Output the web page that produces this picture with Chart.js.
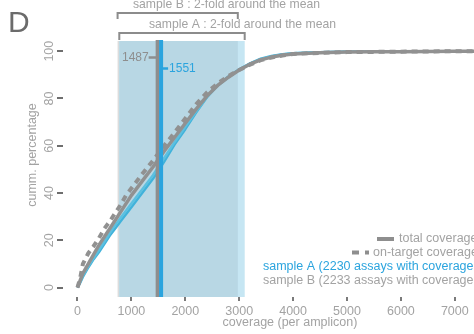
<!DOCTYPE html>
<html>
<head>
<meta charset="utf-8">
<script src="https://cdn.jsdelivr.net/npm/chart.js@4"></script>
<style>
  html, body { margin: 0; padding: 0; background: #fff; overflow: hidden; }
  #wrap { position: relative; width: 474px; height: 334px; }
</style>
</head>
<body>
<div id="wrap"><canvas id="c" width="474" height="334"></canvas></div>
<script>
// ---------------- data ----------------
const coverage = [0, 50, 100, 200, 300, 400, 500, 600, 700, 800, 900, 1000, 1200, 1400, 1600, 1800, 2000, 2200, 2400, 2600, 2800, 3000, 3200, 3400, 3600, 3800, 4000, 4500, 5000, 5500, 6000, 6500, 7000, 7500];
const sampleB_onTarget = [0, 4, 10, 14.5, 17.5, 21, 25, 28, 31.5, 35, 39, 42, 48, 53.7, 59.8, 65.5, 71.5, 77.5, 82.5, 86.3, 89.5, 92, 94.3, 96.2, 97.3, 98.2, 98.8, 99.3, 99.6, 99.7, 99.8, 99.9, 99.95, 100];
const sampleB_total    = [0, 3, 6, 10, 14, 18, 21.5, 25, 28.5, 32, 35.5, 39, 45, 51, 57.5, 63.5, 69.5, 75.5, 81, 85.5, 89, 92, 94.5, 96.3, 97.5, 98.3, 98.8, 99.3, 99.6, 99.7, 99.8, 99.9, 99.95, 100];
const sampleA_total    = [0, 2.5, 5, 9, 12.5, 16, 19.5, 23, 26.5, 29.5, 32.5, 35.5, 41.5, 47.5, 54.5, 61.5, 68, 74.5, 80.5, 85.5, 89, 92, 94.6, 96.6, 97.8, 98.6, 99.1, 99.5, 99.7, 99.8, 99.85, 99.9, 99.95, 100];
const sampleA_onTarget = [0, 2, 4.5, 8.5, 12, 15, 18.5, 22, 25, 28, 31, 34, 40, 46, 53, 60.5, 67, 74, 80.5, 85.5, 89.3, 92.3, 94.8, 96.8, 98, 98.7, 99.1, 99.5, 99.7, 99.8, 99.85, 99.9, 99.95, 100];
const meanA = 1551;
const meanB = 1487;
const bandA = [775.5, 3102];
const bandB = [743.5, 2974];
const xTicks = [0, 1000, 2000, 3000, 4000, 5000, 6000, 7000];
const yTicks = [0, 20, 40, 60, 80, 100];
const legendLines = ["total coverage", "on-target coverage", "sample A (2230 assays with coverage > 0)", "sample B (2233 assays with coverage > 0)"];

const toXY = (ys) => coverage.map((x, i) => ({x: x, y: ys[i]}));

const GRAY = '#919191';
const TXT = '#a3a3a3';
const BLUE = '#2ba4de';
const FONT = '"Liberation Sans", Arial, sans-serif';

const decor = {
  id: 'decor',
  beforeDatasetsDraw(chart) {
    const ctx = chart.ctx, xs = chart.scales.x, a = chart.chartArea;
    const px = v => xs.getPixelForValue(v);
    ctx.save();
    ctx.fillStyle = '#dcdcdc';
    ctx.fillRect(px(bandB[0]), a.top, px(bandB[1]) - px(bandB[0]), a.bottom - a.top);
    ctx.fillStyle = '#c6e6f3';
    ctx.fillRect(px(bandA[0]), a.top, px(bandA[1]) - px(bandA[0]), a.bottom - a.top);
    const o0 = Math.max(bandA[0], bandB[0]), o1 = Math.min(bandA[1], bandB[1]);
    ctx.fillStyle = '#b8d7e4';
    ctx.fillRect(px(o0), a.top, px(o1) - px(o0), a.bottom - a.top);
    ctx.restore();
  },
  afterDatasetsDraw(chart) {
    const ctx = chart.ctx, xs = chart.scales.x, a = chart.chartArea;
    const px = v => xs.getPixelForValue(v);
    ctx.save();
    ctx.lineCap = 'butt';
    ctx.lineWidth = 4;
    ctx.strokeStyle = '#8e8e8e';
    ctx.beginPath(); ctx.moveTo(px(meanB), a.top - 1); ctx.lineTo(px(meanB), a.bottom); ctx.stroke();
    ctx.strokeStyle = BLUE;
    ctx.beginPath(); ctx.moveTo(px(meanA), a.top - 1); ctx.lineTo(px(meanA), a.bottom); ctx.stroke();
    ctx.lineWidth = 2.5;
    ctx.strokeStyle = '#8e8e8e';
    ctx.beginPath(); ctx.moveTo(px(meanB) - 9, 57.5); ctx.lineTo(px(meanB), 57.5); ctx.stroke();
    ctx.strokeStyle = BLUE;
    ctx.beginPath(); ctx.moveTo(px(meanA), 68.5); ctx.lineTo(px(meanA) + 7, 68.5); ctx.stroke();
    ctx.font = '12px ' + FONT;
    ctx.textBaseline = 'middle';
    ctx.fillStyle = '#8e8e8e';
    ctx.textAlign = 'right';
    ctx.fillText(String(meanB), px(meanB) - 9, 58);
    ctx.fillStyle = BLUE;
    ctx.textAlign = 'left';
    ctx.fillText(String(meanA), px(meanA) + 8, 69);
    ctx.restore();
  },
  afterDraw(chart) {
    const ctx = chart.ctx, xs = chart.scales.x;
    const px = v => xs.getPixelForValue(v);
    ctx.save();
    ctx.fillStyle = '#6b6b6b';
    ctx.font = '30px ' + FONT;
    ctx.textBaseline = 'alphabetic';
    ctx.textAlign = 'left';
    ctx.fillText('D', 8, 32);
    ctx.strokeStyle = '#8c8c8c';
    ctx.lineWidth = 2;
    ctx.lineCap = 'butt';
    const bracket = (x0, x1, y, y2) => {
      ctx.beginPath();
      ctx.moveTo(x0, y2); ctx.lineTo(x0, y); ctx.lineTo(x1, y); ctx.lineTo(x1, y2);
      ctx.stroke();
    };
    bracket(px(bandB[0]), px(bandB[1]), 13, 19);
    bracket(px(bandA[0]), px(bandA[1]), 33, 40);
    ctx.fillStyle = TXT;
    ctx.font = '12.2px ' + FONT;
    ctx.textBaseline = 'middle';
    ctx.fillText('sample B : 2-fold around the mean', 133, 5);
    ctx.fillText('sample A : 2-fold around the mean', 149, 25);
    ctx.font = '12.5px ' + FONT;
    ctx.textAlign = 'center';
    ctx.fillText('coverage (per amplicon)', 290, 323);
    ctx.save();
    ctx.translate(33, 155);
    ctx.rotate(-Math.PI / 2);
    ctx.fillText('cumm. percentage', 0, 0);
    ctx.restore();
    ctx.textAlign = 'left';
    ctx.font = '12.5px ' + FONT;
    ctx.lineWidth = 4;
    ctx.strokeStyle = '#8e8e8e';
    ctx.beginPath(); ctx.moveTo(377, 239); ctx.lineTo(394, 239); ctx.stroke();
    ctx.setLineDash([7, 6]);
    ctx.beginPath(); ctx.moveTo(352, 252.5); ctx.lineTo(369, 252.5); ctx.stroke();
    ctx.setLineDash([]);
    ctx.fillStyle = TXT;
    ctx.fillText(legendLines[0], 399, 239);
    ctx.fillText(legendLines[1], 373, 252.5);
    ctx.fillStyle = BLUE;
    ctx.fillText(legendLines[2], 263, 266.5);
    ctx.fillStyle = TXT;
    ctx.fillText(legendLines[3], 263, 280.5);
    ctx.restore();
  }
};

new Chart(document.getElementById('c'), {
  type: 'line',
  data: {
    datasets: [
      { label: 'B on-target', data: toXY(sampleB_onTarget), borderColor: GRAY, borderWidth: 4, borderDash: [6, 5], order: 0 },
      { label: 'B total', data: toXY(sampleB_total), borderColor: GRAY, borderWidth: 3.5, order: 1 },
      { label: 'A total', data: toXY(sampleA_total), borderColor: '#5cc0e0', borderWidth: 2.5, order: 2 },
      { label: 'A on-target', data: toXY(sampleA_onTarget), borderColor: '#41b2da', borderWidth: 2.5, order: 3 }
    ]
  },
  options: {
    responsive: false,
    animation: false,
    events: [],
    layout: { padding: { top: 41, left: 0, right: 0, bottom: 0 } },
    elements: { point: { radius: 0 }, line: { tension: 0, borderCapStyle: 'butt', borderJoinStyle: 'round', fill: false } },
    plugins: { legend: { display: false }, tooltip: { enabled: false } },
    scales: {
      x: {
        type: 'linear',
        min: -269, max: 7356,
        afterBuildTicks: s => { s.ticks = xTicks.map(v => ({ value: v })); },
        afterFit: s => { s.height = 37; s.paddingLeft = 0; s.paddingRight = 0; },
        grid: { drawOnChartArea: false, drawTicks: true, tickLength: 4, color: '#7a7a7a', lineWidth: 2 },
        border: { display: false },
        ticks: { color: TXT, font: { family: FONT, size: 12.5 }, padding: 3, maxRotation: 0, autoSkip: false, callback: v => String(v) }
      },
      y: {
        type: 'linear',
        min: -4, max: 104.3,
        afterBuildTicks: s => { s.ticks = yTicks.map(v => ({ value: v })); },
        afterFit: s => { s.width = 63; s.paddingTop = 0; s.paddingBottom = 0; },
        grid: { drawOnChartArea: false, drawTicks: true, tickLength: 6, color: '#6e6e6e', lineWidth: 2 },
        border: { display: false },
        ticks: { color: TXT, font: { family: FONT, size: 12.5 }, padding: -3, minRotation: 90, maxRotation: 90, crossAlign: 'center', autoSkip: false, callback: v => String(v) }
      }
    }
  },
  plugins: [decor]
});
</script>
</body>
</html>
